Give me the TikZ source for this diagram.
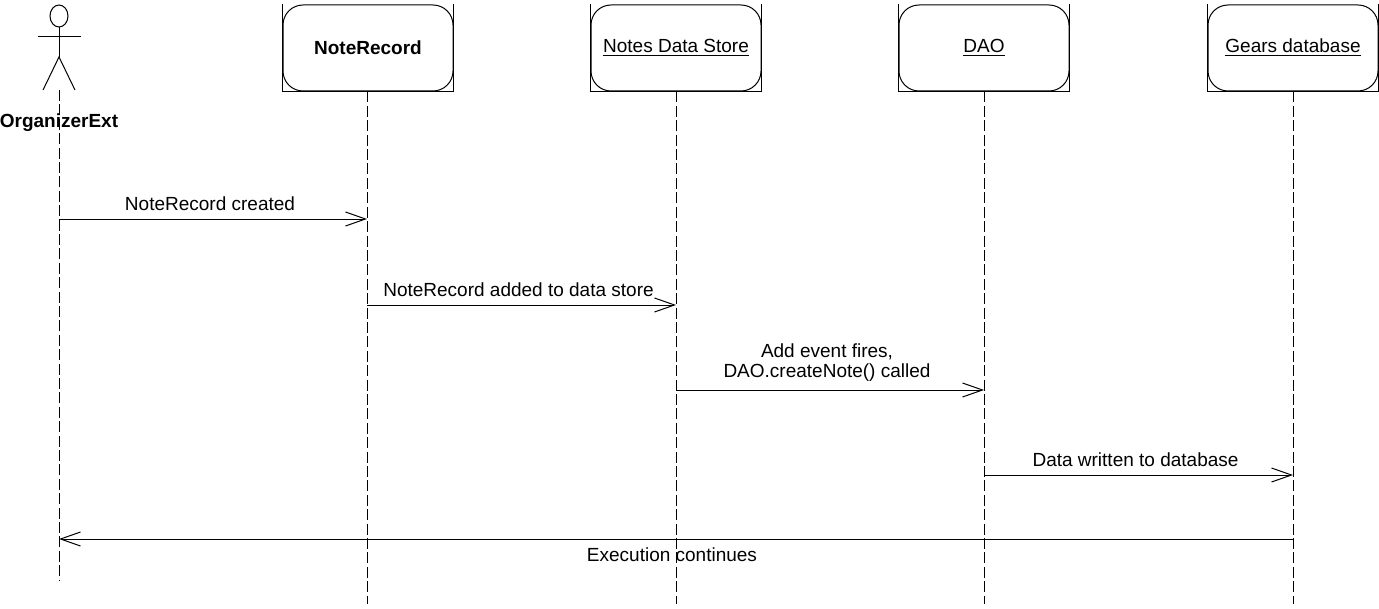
\documentclass[tikz,border=0pt]{standalone}
\usepackage{fontspec}
\setmainfont{Liberation Sans}
\usetikzlibrary{arrows.meta}
\usetikzlibrary{shapes.geometric}

\begin{document}
\begin{tikzpicture}[
    x=0.5pt, y=-0.5pt,
    line width=0.5pt,
    object/.style={rectangle, draw, rounded corners=10pt, minimum width=85pt, minimum height=43pt, inner sep=0pt, align=center},
    frame/.style={line width=0.6pt},
    lifeline/.style={dash pattern=on 5.5pt off 1.7pt},
    arrow/.style={-{Straight Barb[length=10pt, width=7pt]}},
    msg/.style={midway, above=4pt, xshift=-1.5pt, inner sep=0pt, align=center},
    every node/.style={font=\fontsize{9.5}{10}\selectfont}
    ]
    \useasboundingbox (0,0) rectangle (1379,609);

    % Actor
    \node[ellipse, draw, minimum width=9pt, minimum height=11pt, inner sep=0pt] (head) at (59,16) {};
    \coordinate (hip) at (59,57);
    \coordinate (armL) at (38,37);
    \coordinate (armR) at (81,37);
    \coordinate (footL) at (43,90);
    \coordinate (footR) at (75,90);
    \draw (head) -- (hip);
    \draw (armL) -- (armR);
    \draw (footL) -- (hip) -- (footR);
    \node[font=\fontsize{9.5}{10}\selectfont\bfseries] (actor) at (59,123) {OrganizerExt};

    % Objects
    \node[object] (noteRecord) at (368,48) {\textbf{NoteRecord}};
    \node[object] (dataStore) at (676,48) {\underline{Notes Data Store}};
    \node[object] (dao) at (984,48) {\underline{DAO}};
    \node[object] (gears) at (1293,48) {\underline{Gears database}};

    \draw[frame] (noteRecord.north west) -- (noteRecord.south west) -- (noteRecord.south east) -- (noteRecord.north east);
    \draw[frame] (dataStore.north west) -- (dataStore.south west) -- (dataStore.south east) -- (dataStore.north east);
    \draw[frame] (dao.north west) -- (dao.south west) -- (dao.south east) -- (dao.north east);
    \draw[frame] (gears.north west) -- (gears.south west) -- (gears.south east) -- (gears.north east);

    % Lifelines
    \coordinate (actorTop) at (59,90);
    \coordinate (actorEnd) at (59,580);
    \coordinate (noteRecordEnd) at (367,604);
    \coordinate (dataStoreEnd) at (676,604);
    \coordinate (daoEnd) at (984,604);
    \coordinate (gearsEnd) at (1293,604);
    \draw[lifeline] (actorTop) -- (actorEnd);
    \draw[lifeline] (noteRecordEnd |- noteRecord.south) -- (noteRecordEnd);
    \draw[lifeline] (dataStore.south) -- (dataStoreEnd);
    \draw[lifeline] (dao.south) -- (daoEnd);
    \draw[lifeline] (gears.south) -- (gearsEnd);

    % Messages
    \coordinate (m1a) at (59,219);
    \coordinate (m1b) at (367,219);
    \coordinate (m2a) at (367,305);
    \coordinate (m2b) at (676,305);
    \coordinate (m3a) at (676,390);
    \coordinate (m3b) at (984,390);
    \coordinate (m4a) at (984,475);
    \coordinate (m4b) at (1293,475);
    \coordinate (m5a) at (1293,539);
    \coordinate (m5b) at (59,539);

    \draw[arrow] (m1a) -- (m1b) node[msg] {NoteRecord created};
    \draw[arrow] (m2a) -- (m2b) node[msg] {NoteRecord added to data store};
    \draw[arrow] (m3a) -- (m3b) node[msg] {Add event fires,\\DAO.createNote() called};
    \draw[arrow] (m4a) -- (m4b) node[msg] {Data written to database};
    \draw[arrow] (m5a) -- (m5b) node[midway, below=4pt, xshift=-2pt, inner sep=0pt] {Execution continues};
\end{tikzpicture}
\end{document}
